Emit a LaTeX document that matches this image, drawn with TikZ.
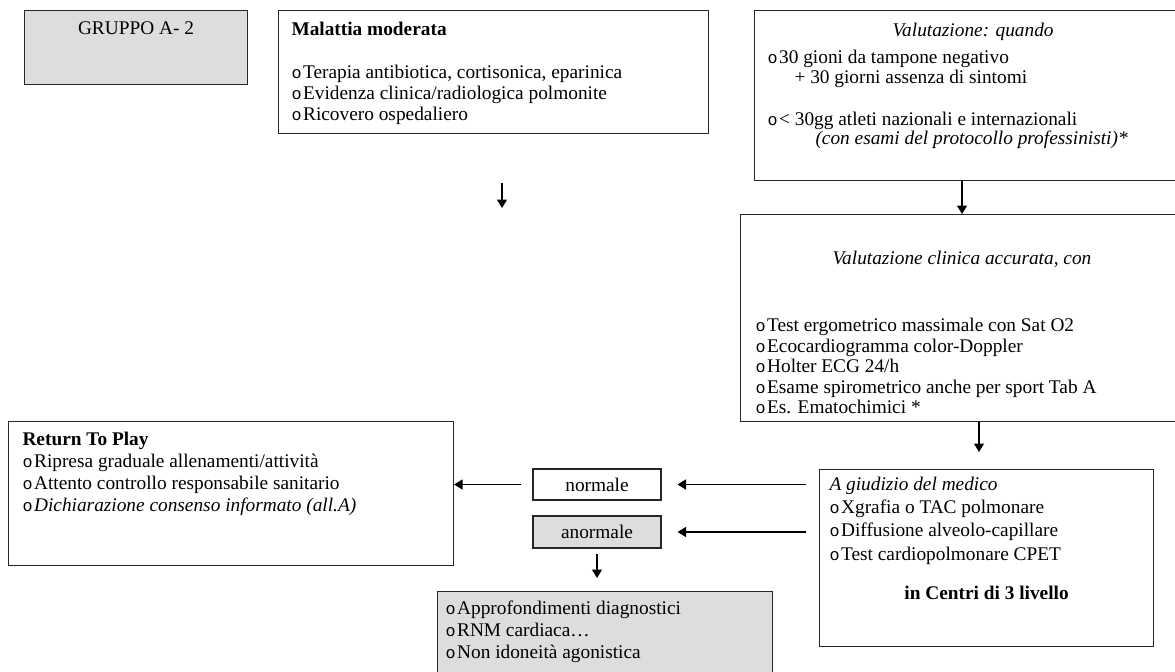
\documentclass[tikz,border=0pt]{standalone}
\usepackage{fontspec}
\setmainfont{Liberation Serif}
\newfontfamily\bulfont{Liberation Mono}
\usepackage{tikz}
\usetikzlibrary{arrows.meta, positioning, calc}
\definecolor{boxgray}{HTML}{DDDDDD}
\definecolor{edge}{HTML}{262626}
\tikzset{
  card/.style={rectangle, draw=edge, line width=0.6pt, anchor=north west, inner ysep=0pt,
    font=\fontsize{11}{12.5}\selectfont},
  card/grey/.style={card, fill=boxgray},
  tag/.style={rectangle, draw=edge, line width=0.6pt, font=\fontsize{11}{12.5}\selectfont,
    minimum width=2.56cm, inner sep=0pt},
  ar/.style={-{Triangle[length=0.17cm,width=0.2cm]}, draw=black, line width=0.8pt},
}
\newcommand{\BX}[4]{\parbox[c][#1][t]{#2}{\vspace*{#3}#4}}
\newcommand{\bu}{\makebox[6.6pt][l]{\fontsize{9.5}{9.5}\selectfont\bulfont o}}

\begin{document}
\begin{tikzpicture}
\useasboundingbox (0,0) rectangle (23.5,-13.42);

\node[card/grey, inner xsep=0pt] (grp) at (0.48,-0.20)
  {\BX{1.48cm}{4.46cm}{0.23cm}{\centering GRUPPO A- 2}};
\node[card, inner xsep=0.26cm, font=\fontsize{11}{11.95}\selectfont] (mal) at (5.56,-0.20)
  {\BX{2.46cm}{8.08cm}{0.24cm}{\textbf{Malattia moderata}\\[0.44cm]
   \bu Terapia antibiotica, cortisonica, eparinica\\
   \bu Evidenza clinica/radiologica polmonite\\
   \bu Ricovero ospedaliero}};
\node[card, inner xsep=0.26cm, font=\fontsize{11}{11.1}\selectfont] (vq) at (15.08,-0.20)
  {\BX{3.40cm}{8.28cm}{0.26cm}{\hspace*{2.5cm}\textit{Valutazione: quando}\\[0.15cm]
   \bu 30 gioni da tampone negativo\\
   \hspace*{0.54cm}+ 30 giorni assenza di sintomi\\[0.45cm]
   \bu< 30gg atleti nazionali e internazionali\\
   \hspace*{0.96cm}\textit{(con esami del protocollo professinisti)*}}};
\node[card, inner xsep=0.30cm, font=\fontsize{11}{11.67}\selectfont] (vc) at (14.80,-4.28)
  {\BX{4.14cm}{8.6cm}{0.74cm}{\hspace*{1.54cm}\textit{Valutazione clinica accurata, con}\\[0.93cm]
   \bu Test ergometrico massimale con Sat O2\\
   \bu Ecocardiogramma color-Doppler\\
   \bu Holter ECG 24/h\\
   \bu Esame spirometrico anche per sport Tab A\\
   \bu Es. Ematochimici *}};
\node[card, inner xsep=0.28cm] (ret) at (0.16,-8.42)
  {\BX{2.88cm}{8.34cm}{0.22cm}{\textbf{Return To Play}\\
   \bu Ripresa graduale allenamenti/attività\\
   \bu Attento controllo responsabile sanitario\\
   \bu\textit{Dichiarazione consenso informato (all.A)}}};
\node[tag, minimum height=0.62cm] (nor) at (11.94,-9.69) {normale};
\node[tag, fill=boxgray, minimum height=0.64cm] (anor) at (11.94,-10.64) {anormale};
\node[card, inner xsep=0.20cm, font=\fontsize{11}{13.1}\selectfont] (giu) at (16.38,-9.38)
  {\BX{3.54cm}{6.28cm}{0.16cm}{\textit{A giudizio del medico}\\
   \bu Xgrafia o TAC polmonare\\
   \bu Diffusione alveolo-capillare\\
   \bu Test cardiopolmonare CPET\par\vspace{0.32cm}
   {\centering\textbf{in Centri di 3 livello}\par}}};
\node[card/grey, inner xsep=0.16cm] (bot) at (8.74,-11.82)
  {\BX{2.0cm}{6.38cm}{0.18cm}{\bu Approfondimenti diagnostici\\
   \bu RNM cardiaca…\\
   \bu Non idoneità agonistica}};

\coordinate (fa) at (10.04,-3.66);
\coordinate (fb) at (10.04,-4.16);
\coordinate (xa) at (19.24,0);
\coordinate (xb) at (19.58,0);

\draw[ar] (fa) -- (fb);
\draw[ar] (vq.south -| xa) -- (vc.north -| xa);
\draw[ar, shorten >=0.34cm] (vc.south -| xb) -- (giu.north -| xb);
\draw[ar, shorten <=0.26cm, shorten >=0.32cm] (nor.east -| giu.west) -- (nor.east);
\draw[ar, shorten <=0.26cm, shorten >=0.32cm] (anor.east -| giu.west) -- (anor.east);
\draw[ar, shorten <=0.22cm] (nor.west) -- (nor.west -| ret.east);
\draw[ar, shorten <=0.1cm, shorten >=0.26cm] (anor.south) -- (anor.south |- bot.north);
\end{tikzpicture}
\end{document}
